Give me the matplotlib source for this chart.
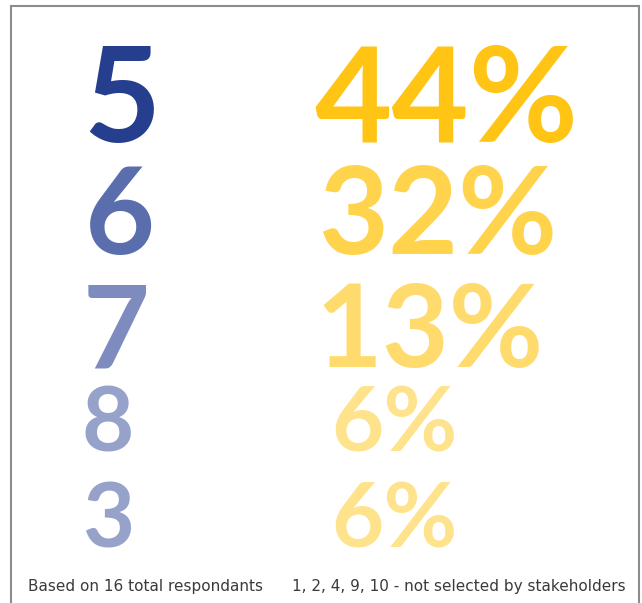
import matplotlib.pyplot as plt

# data
options = ["5", "6", "7", "8", "3"]
shares = [44, 32, 13, 6, 6]
total_respondents = 16
not_selected = [1, 2, 4, 9, 10]

# layout / style
baselines = [142, 254, 367, 452, 547]
sizes = [96, 87, 83, 65, 65]
left_x = [122, 120, 116, 108, 108]
right_x = [446, 438, 430, 394, 394]
blues = ["#253F8E", "#5A6EAD", "#7D8BBF", "#96A2CA", "#96A2CA"]
yellows = ["#FFC414", "#FFD44C", "#FFDB6E", "#FFE38C", "#FFE38C"]

fig = plt.figure(figsize=(6.42, 6.03), dpi=100)
ax = fig.add_axes([0, 0, 1, 1])
ax.set_xlim(0, 642)
ax.set_ylim(603, 0)
ax.axis("off")

# frame (open at bottom)
ax.plot([11, 11, 639, 639], [603, 6, 6, 603], color="#8c8c8c", lw=1.5,
        solid_joinstyle="miter")

for i in range(len(options)):
    ax.text(left_x[i], baselines[i], options[i], ha="center", va="baseline",
            fontsize=sizes[i], family="Lato", fontweight="bold", color=blues[i])
    ax.text(right_x[i], baselines[i], f"{shares[i]}%", ha="center", va="baseline",
            fontsize=sizes[i], family="Lato", fontweight="bold", color=yellows[i])

ax.text(28, 586, f"Based on {total_respondents} total respondants", ha="left",
        va="center", fontsize=11, family="DejaVu Sans", color="#3a3a3a")
ax.text(626, 586, ", ".join(str(n) for n in not_selected) + " - not selected by stakeholders",
        ha="right", va="center", fontsize=11, family="DejaVu Sans", color="#3a3a3a")

fig.savefig("out.png", dpi=100)
